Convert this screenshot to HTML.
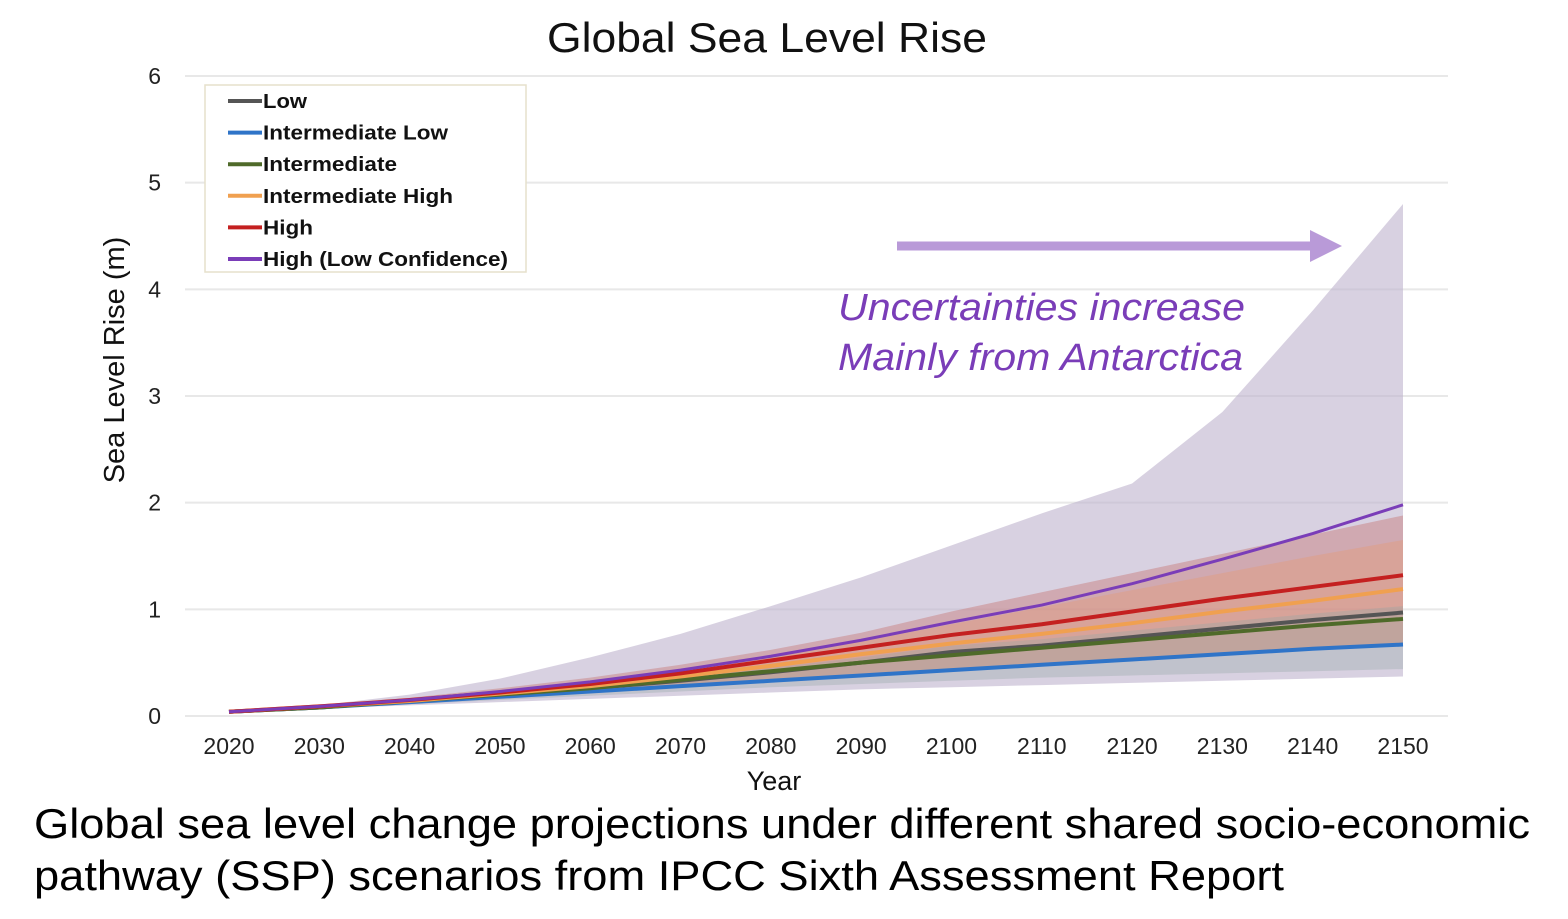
<!DOCTYPE html>
<html><head><meta charset="utf-8"><style>
body{margin:0;background:#fff;width:1568px;height:914px;overflow:hidden;font-family:"Liberation Sans",sans-serif}
svg text{font-family:"Liberation Sans",sans-serif}
</style></head><body>
<svg id="chart" width="1568" height="914" xmlns="http://www.w3.org/2000/svg">
<text x="547" y="52" font-size="42" textLength="440" lengthAdjust="spacingAndGlyphs" fill="#111">Global Sea Level Rise</text>
<g id="grid"></g><g id="bands"></g><g id="lines"></g><g id="ticks"></g>
<text transform="translate(124,360) rotate(-90)" font-size="29" text-anchor="middle" fill="#111">Sea Level Rise (m)</text>
<text x="774" y="790" font-size="27" text-anchor="middle" fill="#111">Year</text>
<g>
<rect x="205" y="85" width="321" height="187" fill="#fff" stroke="#e6e0cc" stroke-width="1.5"/>
<g id="legend-items"></g>
</g>
<line x1="897" y1="246" x2="1315" y2="246" stroke="#b99ad8" stroke-width="9"/>
<polygon points="1310,230 1342,246 1310,262" fill="#b99ad8"/>
<text x="838" y="320" font-size="38" font-style="italic" textLength="407" lengthAdjust="spacingAndGlyphs" fill="#7a3db8">Uncertainties increase</text>
<text x="838" y="370" font-size="38" font-style="italic" textLength="405" lengthAdjust="spacingAndGlyphs" fill="#7a3db8">Mainly from Antarctica</text>
<text x="34" y="838" font-size="42" textLength="1496" lengthAdjust="spacingAndGlyphs" fill="#000">Global sea level change projections under different shared socio-economic</text>
<text x="34" y="890" font-size="42" textLength="1250" lengthAdjust="spacingAndGlyphs" fill="#000">pathway (SSP) scenarios from IPCC Sixth Assessment Report</text>
</svg>
<script>
const years=[2020,2030,2040,2050,2060,2070,2080,2090,2100,2110,2120,2130,2140,2150];
const yTicks=[0,1,2,3,4,5,6];
const low=[0.04,0.08,0.14,0.20,0.26,0.33,0.41,0.50,0.60,0.66,0.74,0.82,0.90,0.97];
const intLow=[0.04,0.08,0.13,0.18,0.23,0.28,0.33,0.38,0.43,0.48,0.53,0.58,0.63,0.67];
const intermediate=[0.04,0.08,0.14,0.20,0.26,0.34,0.42,0.50,0.57,0.64,0.71,0.78,0.85,0.91];
const intHigh=[0.04,0.09,0.14,0.21,0.28,0.37,0.47,0.58,0.68,0.77,0.87,0.98,1.08,1.19];
const high=[0.04,0.09,0.15,0.22,0.30,0.40,0.52,0.64,0.76,0.86,0.98,1.10,1.21,1.32];
const highLC=[0.04,0.09,0.15,0.23,0.32,0.43,0.56,0.71,0.88,1.04,1.24,1.47,1.71,1.98];
const bandLCUpper=[0.04,0.10,0.20,0.35,0.55,0.77,1.03,1.30,1.60,1.90,2.18,2.85,3.80,4.80];
const bandLCLower=[0.04,0.07,0.10,0.13,0.16,0.19,0.22,0.25,0.27,0.29,0.31,0.33,0.35,0.37];
const bandHighUpper=[0.04,0.10,0.17,0.26,0.36,0.48,0.62,0.78,0.98,1.16,1.34,1.52,1.70,1.88];
const bandIHUpper=[0.04,0.09,0.16,0.24,0.33,0.44,0.56,0.70,0.86,1.02,1.18,1.34,1.50,1.65];
const bandGreyUpper=[0.04,0.08,0.15,0.21,0.28,0.36,0.45,0.55,0.66,0.72,0.80,0.88,0.96,1.03];
const bandGreyLower=[0.04,0.07,0.11,0.15,0.19,0.23,0.27,0.30,0.33,0.36,0.38,0.40,0.42,0.44];
const NS='http://www.w3.org/2000/svg';
const X=y=>229+(y-2020)*(1403-229)/130;
const Y=v=>716-v*(716-76)/6;
function mk(tag,attrs,parent){const e=document.createElementNS(NS,tag);for(const k in attrs)e.setAttribute(k,attrs[k]);document.getElementById(parent).appendChild(e);return e;}
yTicks.forEach(t=>{
 const g=mk('line',{x1:185,x2:1448,y1:Y(t),y2:Y(t),stroke:'#e8e8e8','stroke-width':2},'grid');
 
 
 const l=mk('text',{x:161,y:Y(t)+8,'font-size':23,'text-anchor':'end',fill:'#222'},'ticks');l.textContent=t;
 
 
});
years.forEach(y=>{
 const l=mk('text',{x:X(y),y:754,'font-size':23,'text-anchor':'middle',fill:'#222'},'ticks');l.textContent=y;
 
 
});
function band(up,lo,fill,name){
 let d='M'+years.map((y,i)=>X(y)+','+Y(up[i])).join('L');
 for(let i=years.length-1;i>=0;i--)d+='L'+X(years[i])+','+Y(lo[i]);
 const p=mk('path',{d:d+'Z',fill:fill},'bands');
 
 
}
band(bandLCUpper,bandLCLower,'rgba(190,178,205,0.6)','band-high-low-confidence');
band(bandHighUpper,intLow,'rgba(200,120,120,0.45)','band-high');
band(bandIHUpper,intLow,'rgba(235,150,100,0.3)','band-intermediate-high');
band(bandGreyUpper,bandGreyLower,'rgba(150,165,165,0.35)','band-low');
const series=[['Low',low,'#555'],['Intermediate Low',intLow,'#2f74c8'],['Intermediate',intermediate,'#4f6a2a'],['Intermediate High',intHigh,'#f0a050'],['High',high,'#c42020'],['High (Low Confidence)',highLC,'#7a3db8']];
const legendLens=[44,185,134,190,50,245];
series.forEach((s,i)=>{
 const p=mk('polyline',{points:years.map((y,j)=>X(y)+','+Y(s[1][j])).join(' '),fill:'none',stroke:s[2],'stroke-width':i==5?3:4},'lines');
 
 
 const yy=101+i*31.6;
 const ln=mk('line',{x1:228,x2:262,y1:yy,y2:yy,stroke:s[2],'stroke-width':4},'legend-items');
 
 
 const t=mk('text',{x:263,y:yy+7,'font-size':20,'font-weight':'bold',fill:'#111',textLength:legendLens[i],lengthAdjust:'spacingAndGlyphs'},'legend-items');t.textContent=s[0];
 
 
});
</script>
</body></html>
